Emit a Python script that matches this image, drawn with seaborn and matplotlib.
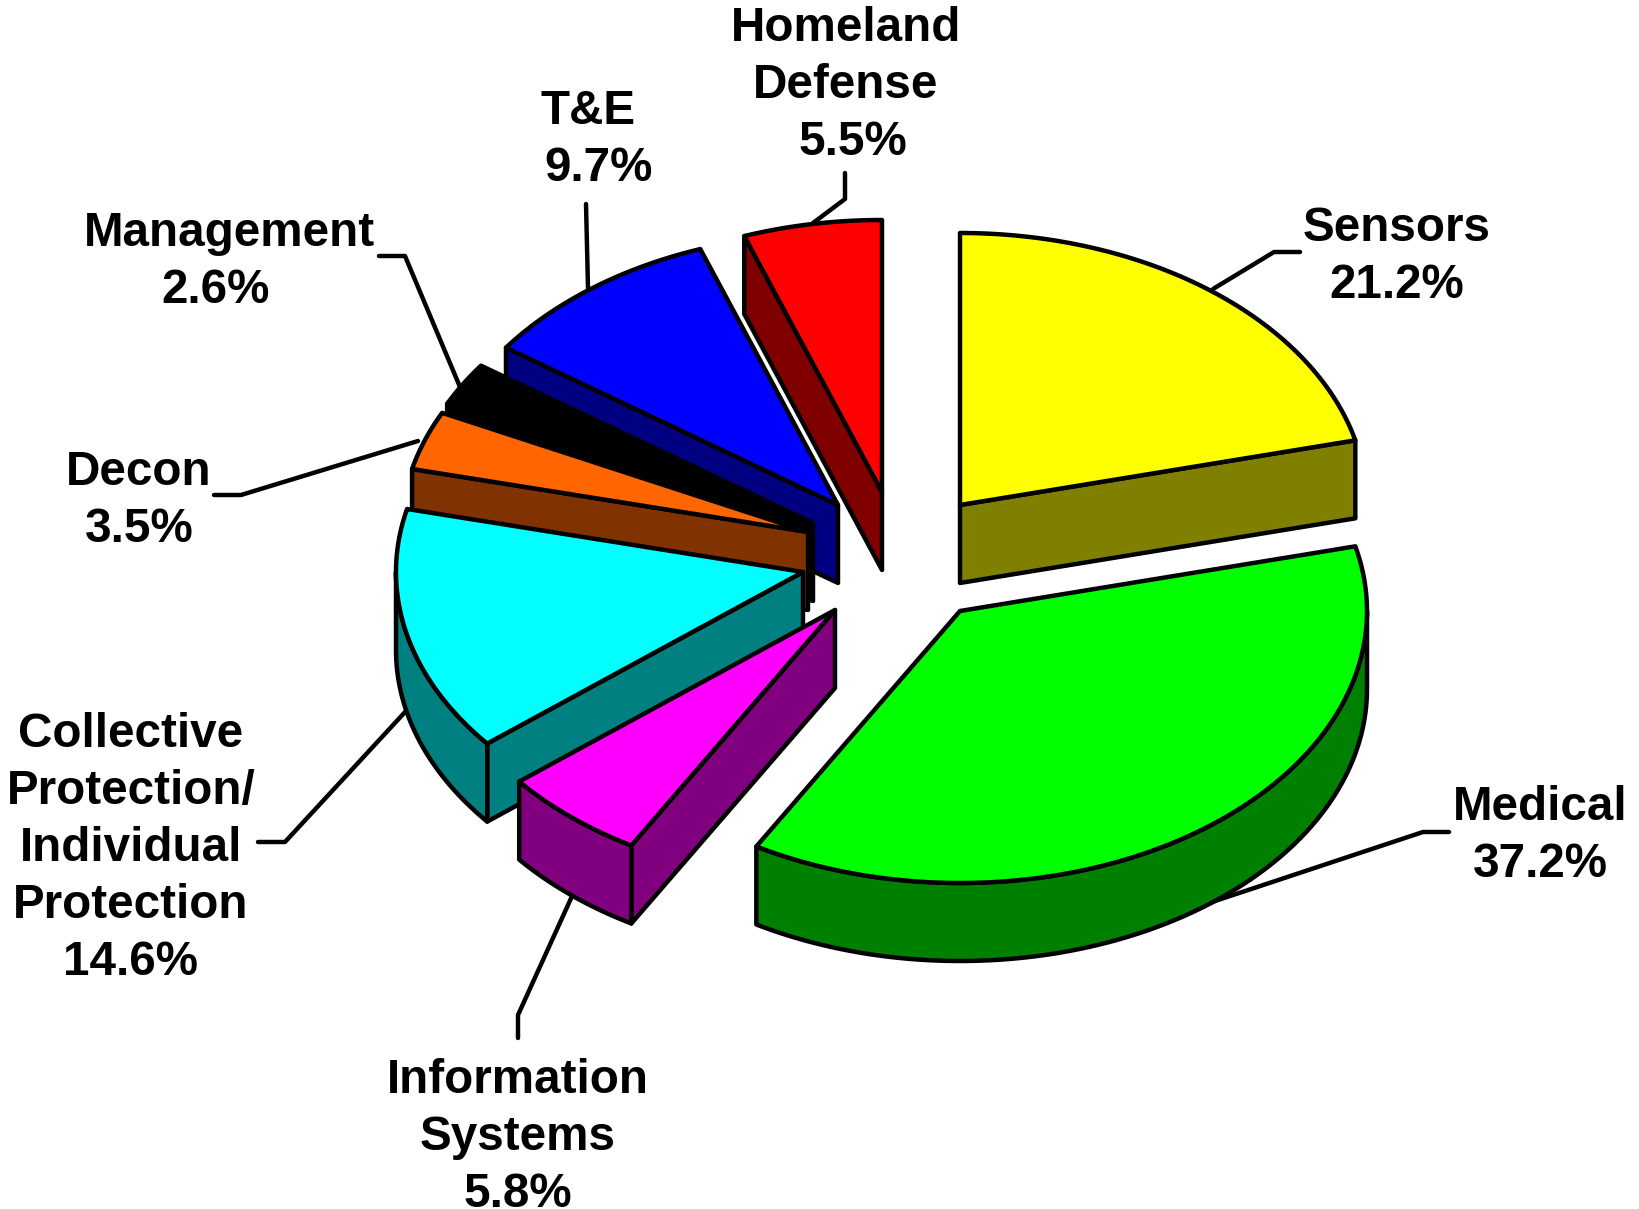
import numpy as np
import matplotlib
matplotlib.use('Agg')
import matplotlib.pyplot as plt
import seaborn as sns

# values
names = ['Sensors', 'Medical', 'Information\nSystems', 'Collective\nProtection/\nIndividual\nProtection',
         'Decon', 'Management', 'T&E', 'Homeland\nDefense']
shares = [21.2, 37.2, 5.8, 14.6, 3.5, 2.6, 9.7, 5.5]

# colours
top_colors = ['#FFFF00', '#00FF00', '#FF00FF', '#00FFFF', '#FF6600', '#000000', '#0000FF', '#FF0000']
side_colors = ['#808000', '#008000', '#800080', '#008080', '#803300', '#000000', '#000080', '#800000']

# layout, in pixels of the 1640x1209 picture
apex_x = [960, 960, 835, 803, 808, 813, 838, 882]
apex_y = [505, 611, 610, 572, 532, 523, 505, 492]
rx, ry, depth = 407, 272, 78
label_x = [1397, 1540, 518, 131, 139, 229, 588, 846]
value_dx = [0, 0, 0, 0, 0, -13, 11, 7]
label_y = [241, 820, 1093, 747, 485, 246, 124, 41]
line_step = 57
leaders = [
    [(1213, 289), (1274, 252), (1300, 252)],
    [(1203, 905), (1423, 832), (1449, 832)],
    [(573, 894), (518, 1015), (518, 1038)],
    [(406, 711), (285, 842), (258, 842)],
    [(418, 441), (241, 495), (214, 495)],
    [(460, 387), (405, 256), (379, 256)],
    [(588, 288), (586, 204)],
    [(813, 223), (845, 199), (845, 173)],
]
draw_order = [7, 6, 5, 4, 3, 2, 0, 1]

sns.set_theme(style='white')
plt.rcParams['font.family'] = ['Liberation Sans', 'DejaVu Sans']

fig = plt.figure(figsize=(16.4, 12.09), dpi=100)
ax = fig.add_axes([0, 0, 1, 1])
ax.set_xlim(0, 1640)
ax.set_ylim(1209, 0)
ax.axis('off')

lw = 3.2
font_size = 34.3
style = dict(edgecolor='black', linewidth=lw, joinstyle='round')


def rim(cx, cy, t1, t2):
    t = np.radians(np.linspace(t1, t2, 120))
    return cx + rx * np.sin(t), cy - ry * np.cos(t)


ends = np.cumsum(shares) / np.sum(shares) * 360
starts = np.concatenate([[0], ends[:-1]])

for pts in leaders:
    xs, ys = zip(*pts)
    ax.plot(xs, ys, color='black', lw=lw, solid_capstyle='round', zorder=1)

for z, i in enumerate(draw_order):
    cx, cy = apex_x[i], apex_y[i]
    t1, t2 = starts[i], ends[i]
    zo = 2 + z
    # cut faces that look towards the viewer
    for t, seen in [(t1, np.sin(np.radians(t1)) < 0), (t2, np.sin(np.radians(t2)) > 0)]:
        if seen:
            ex, ey = rim(cx, cy, t, t)
            ax.fill([cx, ex[0], ex[0], cx], [cy, ey[0], ey[0] + depth, cy + depth],
                    facecolor=side_colors[i], zorder=zo, **style)
    # outer rim, front half only
    lo, hi = max(t1, 90), min(t2, 270)
    if lo < hi:
        ex, ey = rim(cx, cy, lo, hi)
        ax.fill(np.r_[ex, ex[::-1]], np.r_[ey, ey[::-1] + depth],
                facecolor=side_colors[i], zorder=zo, **style)
    ex, ey = rim(cx, cy, t1, t2)
    ax.fill(np.r_[cx, ex], np.r_[cy, ey], facecolor=top_colors[i], zorder=zo, **style)

for i, name in enumerate(names):
    lines = name.split('\n')
    for k, line in enumerate(lines):
        ax.text(label_x[i], label_y[i] + k * line_step, line, ha='center', va='baseline',
                fontsize=font_size, fontweight='bold', color='black', zorder=20)
    ax.text(label_x[i] + value_dx[i], label_y[i] + len(lines) * line_step, f'{shares[i]}%',
            ha='center', va='baseline', fontsize=font_size, fontweight='bold', color='black', zorder=20)

fig.savefig('out.png', dpi=100, facecolor='white')
